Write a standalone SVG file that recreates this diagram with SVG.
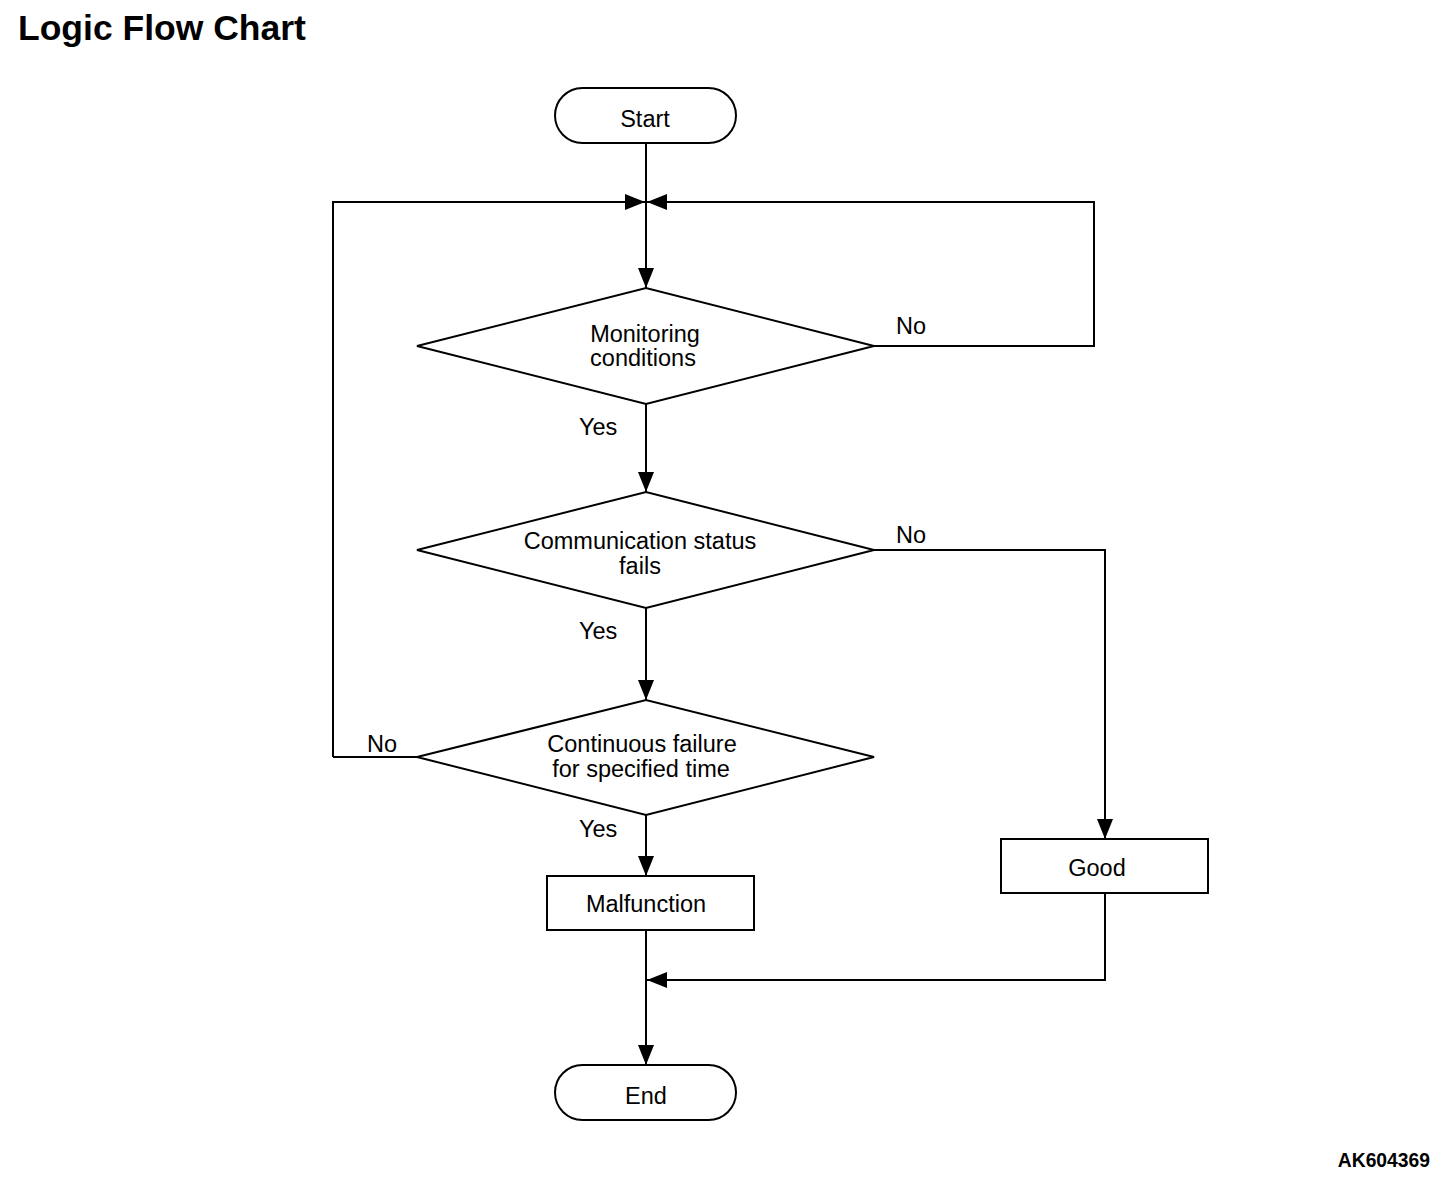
<svg xmlns="http://www.w3.org/2000/svg" width="1456" height="1188" viewBox="0 0 1456 1188">
<style>
.s{fill:#fff;stroke:#000;stroke-width:2}
.l{fill:none;stroke:#000;stroke-width:2}
.t{font-family:"Liberation Sans",Arial,sans-serif;font-size:23.5px;fill:#000;text-anchor:middle}
.lb{font-family:"Liberation Sans",Arial,sans-serif;font-size:23.5px;fill:#000}
</style>
<defs>
<marker id="a" viewBox="0 0 20 16" refX="20" refY="8" markerWidth="20" markerHeight="16" markerUnits="userSpaceOnUse" orient="auto">
<path d="M0,0 L20,8 L0,16 Z" fill="#000"/>
</marker>
</defs>
<rect width="1456" height="1188" fill="#fff"/>
<text x="18" y="40" style="font-family:'Liberation Sans',Arial,sans-serif;font-size:35.5px;font-weight:bold">Logic Flow Chart</text>
<text x="1430" y="1167" text-anchor="end" style="font-family:'Liberation Sans',Arial,sans-serif;font-size:19.3px;font-weight:bold">AK604369</text>
<g id="connectors">
<path class="l" d="M646,143 V288" marker-end="url(#a)"/>
<path class="l" d="M333,757 H417 M333,757 V202 H645" marker-end="url(#a)"/>
<path class="l" d="M874,346 H1094 V202 H647" marker-end="url(#a)"/>
<path class="l" d="M646,404 V492" marker-end="url(#a)"/>
<path class="l" d="M646,608 V700" marker-end="url(#a)"/>
<path class="l" d="M646,815 V876" marker-end="url(#a)"/>
<path class="l" d="M874,550 H1105 V839" marker-end="url(#a)"/>
<path class="l" d="M1105,893 V980 H647" marker-end="url(#a)"/>
<path class="l" d="M646,930 V1065" marker-end="url(#a)"/>
<text class="lb" x="896" y="334">No</text>
<text class="lb" x="896" y="543">No</text>
<text class="lb" x="367" y="752">No</text>
<text class="lb" x="579" y="435">Yes</text>
<text class="lb" x="579" y="639">Yes</text>
<text class="lb" x="579" y="837">Yes</text>
</g>
<g id="start">
<rect class="s" x="555" y="88" width="181" height="55" rx="27.5"/>
<text class="t" x="645" y="127">Start</text>
</g>
<g id="monitoring">
<path class="s" d="M417,346 L646,288 L874,346 L646,404 Z"/>
<text class="t" x="645" y="342">Monitoring</text>
<text class="t" x="643" y="366">conditions</text>
</g>
<g id="communication">
<path class="s" d="M417,550 L646,492 L874,550 L646,608 Z"/>
<text class="t" x="640" y="549">Communication status</text>
<text class="t" x="640" y="574">fails</text>
</g>
<g id="continuous">
<path class="s" d="M417,757 L646,700 L874,757 L646,815 Z"/>
<text class="t" x="642" y="752">Continuous failure</text>
<text class="t" x="641" y="777">for specified time</text>
</g>
<g id="malfunction">
<rect class="s" x="547" y="876" width="207" height="54"/>
<text class="t" x="646" y="912">Malfunction</text>
</g>
<g id="good">
<rect class="s" x="1001" y="839" width="207" height="54"/>
<text class="t" x="1097" y="876">Good</text>
</g>
<g id="end">
<rect class="s" x="555" y="1065" width="181" height="55" rx="27.5"/>
<text class="t" x="646" y="1104">End</text>
</g>
</svg>
